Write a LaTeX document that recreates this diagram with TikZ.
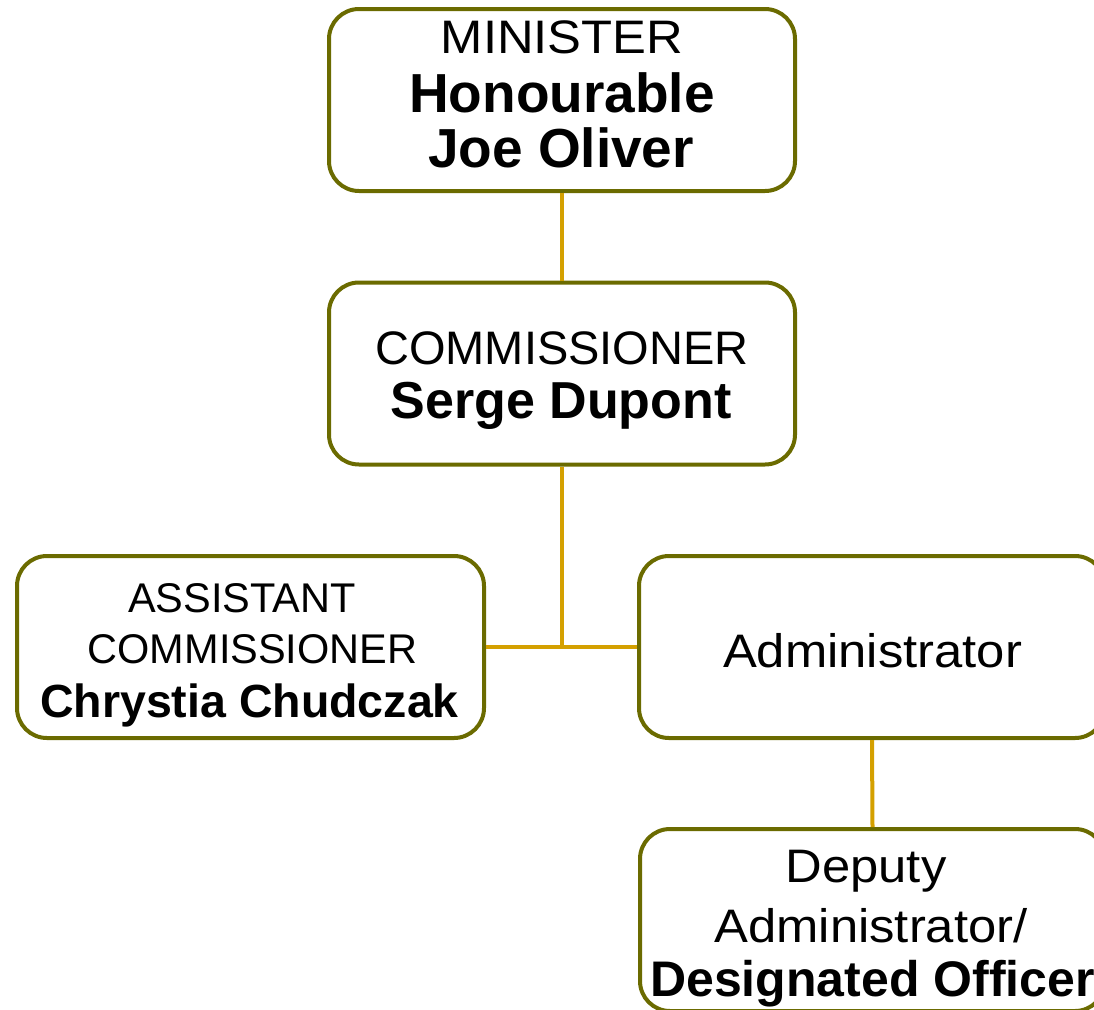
\documentclass[tikz,border=0pt]{standalone}
\usepackage{fontspec}
\setmainfont{Liberation Sans}
\newfontfamily\widefont[FakeStretch=1.08]{Liberation Sans}
\begin{document}
\begin{tikzpicture}[x=1pt,y=-1pt,
  box/.style={draw=boxcol,line width=4pt,rounded corners=30pt,fill=white,minimum width=#1,minimum height=182pt,inner sep=0pt},
  box/.default=466pt,
  txt/.style={anchor=base,inner sep=0pt},
  conn/.style={draw=linecol,line width=4pt}]
\definecolor{boxcol}{RGB}{107,107,0}
\definecolor{linecol}{RGB}{212,160,0}
\useasboundingbox (0,0) rectangle (1094,1009);
\clip (0,0) rectangle (1094,1009);
% boxes
\node[box] (min) at (562,100) {};
\node[box] (com) at (562,373.5) {};
\node[box=467pt] (asst) at (250.5,647) {};
\node[box] (adm) at (872,647) {};
\node[box=465pt] (dep) at (872.5,920) {};
% connectors
\coordinate (j) at (562,647);
\draw[conn] (min.south) -- (com.north);
\draw[conn] (com.south) -- (j);
\draw[conn] (asst.east) -- (j) -- (adm.west);
\draw[conn] (adm.south) -- (dep.north);
% texts
\node[txt,font=\widefont\fontsize{47}{47}\selectfont] (t1) at (562,53) {MINISTER};
\node[txt,font=\fontsize{55}{55}\selectfont\bfseries] (t2) at (562,112) {Honourable};
\node[txt,font=\fontsize{55}{55}\selectfont\bfseries] (t3) at (561,167) {Joe Oliver};
\node[txt,font=\fontsize{47}{47}\selectfont] (t4) at (562,364) {COMMISSIONER};
\node[txt,font=\fontsize{52}{52}\selectfont\bfseries] (t5) at (561,418) {Serge Dupont};
\node[txt,font=\fontsize{41.5}{41.5}\selectfont] (t6) at (242,612) {ASSISTANT};
\node[txt,font=\fontsize{41.5}{41.5}\selectfont] (t7) at (252.5,663) {COMMISSIONER};
\node[txt,font=\fontsize{46.5}{46.5}\selectfont\bfseries] (t8) at (249.5,717) {Chrystia Chudczak};
\node[txt,font=\widefont\fontsize{47}{47}\selectfont] (t9) at (872.5,667) {Administrator};
\node[txt,font=\widefont\fontsize{47}{47}\selectfont] (t10) at (866,882) {Deputy};
\node[txt,font=\widefont\fontsize{47}{47}\selectfont] (t11) at (871,942) {Administrator/};
\node[txt,font=\fontsize{50}{50}\selectfont\bfseries] (t12) at (872.5,996) {Designated Officer};
\end{tikzpicture}
\end{document}
